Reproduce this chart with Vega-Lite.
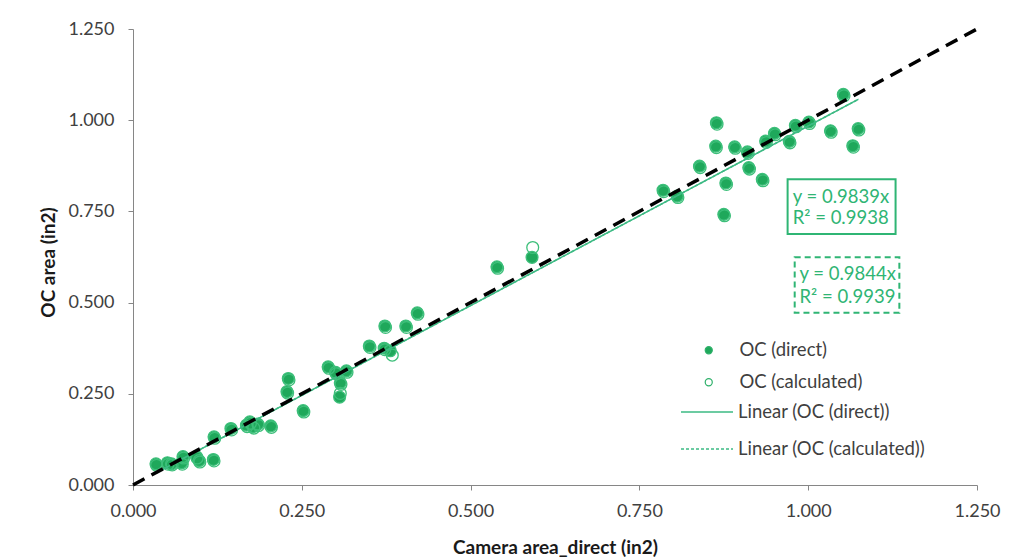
{
  "$schema": "https://vega.github.io/schema/vega-lite/v6.json",
  "autosize": {"type": "none"},
  "width": 844,
  "height": 456,
  "padding": {"left": 133, "top": 29, "right": 39, "bottom": 72},
  "background": "white",
  "config": {
    "font": "Lato",
    "view": {"stroke": null},
    "axis": {
      "domainColor": "#868686",
      "tickColor": "#868686",
      "tickSize": 5,
      "grid": false,
      "labelFlush": false,
      "labelFont": "Lato",
      "labelFontSize": 18,
      "labelColor": "#404040",
      "titleFont": "Lato",
      "titleFontSize": 19,
      "titleFontWeight": "bold",
      "titleColor": "#1a1a1a"
    },
    "legend": {
      "labelFont": "Lato",
      "labelFontSize": 18.5,
      "labelColor": "#404040",
      "labelLimit": 0
    }
  },
  "datasets": {
    "pts": [
      {"x": 0.034, "y": 0.058, "s": "OC (direct)"},
      {"x": 0.051, "y": 0.061, "s": "OC (direct)"},
      {"x": 0.057, "y": 0.058, "s": "OC (direct)"},
      {"x": 0.072, "y": 0.061, "s": "OC (direct)"},
      {"x": 0.074, "y": 0.078, "s": "OC (direct)"},
      {"x": 0.094, "y": 0.078, "s": "OC (direct)"},
      {"x": 0.098, "y": 0.067, "s": "OC (direct)"},
      {"x": 0.119, "y": 0.070, "s": "OC (direct)"},
      {"x": 0.120, "y": 0.132, "s": "OC (direct)"},
      {"x": 0.145, "y": 0.155, "s": "OC (direct)"},
      {"x": 0.168, "y": 0.164, "s": "OC (direct)"},
      {"x": 0.173, "y": 0.173, "s": "OC (direct)"},
      {"x": 0.178, "y": 0.160, "s": "OC (direct)"},
      {"x": 0.185, "y": 0.167, "s": "OC (direct)"},
      {"x": 0.204, "y": 0.162, "s": "OC (direct)"},
      {"x": 0.228, "y": 0.256, "s": "OC (direct)"},
      {"x": 0.230, "y": 0.292, "s": "OC (direct)"},
      {"x": 0.252, "y": 0.204, "s": "OC (direct)"},
      {"x": 0.289, "y": 0.324, "s": "OC (direct)"},
      {"x": 0.300, "y": 0.309, "s": "OC (direct)"},
      {"x": 0.316, "y": 0.313, "s": "OC (direct)"},
      {"x": 0.307, "y": 0.280, "s": "OC (direct)"},
      {"x": 0.306, "y": 0.241, "s": "OC (direct)"},
      {"x": 0.350, "y": 0.381, "s": "OC (direct)"},
      {"x": 0.372, "y": 0.375, "s": "OC (direct)"},
      {"x": 0.381, "y": 0.368, "s": "OC (direct)"},
      {"x": 0.373, "y": 0.436, "s": "OC (direct)"},
      {"x": 0.404, "y": 0.436, "s": "OC (direct)"},
      {"x": 0.421, "y": 0.472, "s": "OC (direct)"},
      {"x": 0.539, "y": 0.598, "s": "OC (direct)"},
      {"x": 0.591, "y": 0.624, "s": "OC (direct)"},
      {"x": 0.785, "y": 0.808, "s": "OC (direct)"},
      {"x": 0.806, "y": 0.792, "s": "OC (direct)"},
      {"x": 0.839, "y": 0.874, "s": "OC (direct)"},
      {"x": 0.864, "y": 0.993, "s": "OC (direct)"},
      {"x": 0.863, "y": 0.929, "s": "OC (direct)"},
      {"x": 0.878, "y": 0.828, "s": "OC (direct)"},
      {"x": 0.875, "y": 0.742, "s": "OC (direct)"},
      {"x": 0.891, "y": 0.927, "s": "OC (direct)"},
      {"x": 0.910, "y": 0.913, "s": "OC (direct)"},
      {"x": 0.912, "y": 0.870, "s": "OC (direct)"},
      {"x": 0.932, "y": 0.838, "s": "OC (direct)"},
      {"x": 0.937, "y": 0.943, "s": "OC (direct)"},
      {"x": 0.950, "y": 0.964, "s": "OC (direct)"},
      {"x": 0.972, "y": 0.942, "s": "OC (direct)"},
      {"x": 0.981, "y": 0.986, "s": "OC (direct)"},
      {"x": 1.001, "y": 0.995, "s": "OC (direct)"},
      {"x": 1.033, "y": 0.971, "s": "OC (direct)"},
      {"x": 1.052, "y": 1.071, "s": "OC (direct)"},
      {"x": 1.074, "y": 0.977, "s": "OC (direct)"},
      {"x": 1.066, "y": 0.930, "s": "OC (direct)"},
      {"x": 0.035, "y": 0.054, "s": "OC (calculated)"},
      {"x": 0.052, "y": 0.057, "s": "OC (calculated)"},
      {"x": 0.058, "y": 0.055, "s": "OC (calculated)"},
      {"x": 0.073, "y": 0.057, "s": "OC (calculated)"},
      {"x": 0.075, "y": 0.074, "s": "OC (calculated)"},
      {"x": 0.095, "y": 0.074, "s": "OC (calculated)"},
      {"x": 0.099, "y": 0.063, "s": "OC (calculated)"},
      {"x": 0.120, "y": 0.066, "s": "OC (calculated)"},
      {"x": 0.121, "y": 0.128, "s": "OC (calculated)"},
      {"x": 0.146, "y": 0.151, "s": "OC (calculated)"},
      {"x": 0.169, "y": 0.160, "s": "OC (calculated)"},
      {"x": 0.174, "y": 0.169, "s": "OC (calculated)"},
      {"x": 0.179, "y": 0.156, "s": "OC (calculated)"},
      {"x": 0.186, "y": 0.163, "s": "OC (calculated)"},
      {"x": 0.205, "y": 0.158, "s": "OC (calculated)"},
      {"x": 0.229, "y": 0.252, "s": "OC (calculated)"},
      {"x": 0.231, "y": 0.288, "s": "OC (calculated)"},
      {"x": 0.253, "y": 0.200, "s": "OC (calculated)"},
      {"x": 0.290, "y": 0.320, "s": "OC (calculated)"},
      {"x": 0.301, "y": 0.305, "s": "OC (calculated)"},
      {"x": 0.317, "y": 0.309, "s": "OC (calculated)"},
      {"x": 0.308, "y": 0.276, "s": "OC (calculated)"},
      {"x": 0.307, "y": 0.251, "s": "OC (calculated)"},
      {"x": 0.351, "y": 0.377, "s": "OC (calculated)"},
      {"x": 0.373, "y": 0.371, "s": "OC (calculated)"},
      {"x": 0.384, "y": 0.356, "s": "OC (calculated)"},
      {"x": 0.374, "y": 0.432, "s": "OC (calculated)"},
      {"x": 0.405, "y": 0.432, "s": "OC (calculated)"},
      {"x": 0.422, "y": 0.468, "s": "OC (calculated)"},
      {"x": 0.540, "y": 0.594, "s": "OC (calculated)"},
      {"x": 0.592, "y": 0.651, "s": "OC (calculated)"},
      {"x": 0.786, "y": 0.804, "s": "OC (calculated)"},
      {"x": 0.807, "y": 0.788, "s": "OC (calculated)"},
      {"x": 0.840, "y": 0.870, "s": "OC (calculated)"},
      {"x": 0.865, "y": 0.989, "s": "OC (calculated)"},
      {"x": 0.864, "y": 0.925, "s": "OC (calculated)"},
      {"x": 0.879, "y": 0.824, "s": "OC (calculated)"},
      {"x": 0.876, "y": 0.738, "s": "OC (calculated)"},
      {"x": 0.892, "y": 0.923, "s": "OC (calculated)"},
      {"x": 0.911, "y": 0.909, "s": "OC (calculated)"},
      {"x": 0.913, "y": 0.866, "s": "OC (calculated)"},
      {"x": 0.933, "y": 0.834, "s": "OC (calculated)"},
      {"x": 0.938, "y": 0.939, "s": "OC (calculated)"},
      {"x": 0.951, "y": 0.960, "s": "OC (calculated)"},
      {"x": 0.973, "y": 0.938, "s": "OC (calculated)"},
      {"x": 0.982, "y": 0.982, "s": "OC (calculated)"},
      {"x": 1.002, "y": 0.991, "s": "OC (calculated)"},
      {"x": 1.034, "y": 0.967, "s": "OC (calculated)"},
      {"x": 1.053, "y": 1.067, "s": "OC (calculated)"},
      {"x": 1.075, "y": 0.973, "s": "OC (calculated)"},
      {"x": 1.067, "y": 0.926, "s": "OC (calculated)"}
    ],
    "fits": [
      {"x": 0.034, "y": 0.033, "s": "Linear (OC (direct))"},
      {"x": 1.074, "y": 1.057, "s": "Linear (OC (direct))"},
      {"x": 0.035, "y": 0.034, "s": "Linear (OC (calculated))"},
      {"x": 1.075, "y": 1.058, "s": "Linear (OC (calculated))"}
    ],
    "diag": [
      {"x": 0, "y": 0},
      {"x": 1.25, "y": 1.25}
    ],
    "boxes": [
      {"x": 0.9695, "x2": 1.1294, "y": 0.838, "y2": 0.688, "b": "direct"},
      {"x": 0.980, "x2": 1.135, "y": 0.624, "y2": 0.472, "b": "calculated"}
    ],
    "labels": [
      {"x": 0.977, "y": 0.790, "t": "y = 0.9839x"},
      {"x": 0.977, "y": 0.731, "t": "R² = 0.9938"},
      {"x": 0.987, "y": 0.578, "t": "y = 0.9844x"},
      {"x": 0.987, "y": 0.516, "t": "R² = 0.9939"}
    ]
  },
  "layer": [
    {
      "data": {"name": "pts"},
      "mark": {"type": "point", "shape": "circle", "size": 140, "stroke": "#3dbf7a", "strokeWidth": 1.3, "opacity": 1},
      "encoding": {
        "x": {
          "field": "x", "type": "quantitative",
          "scale": {"domain": [0, 1.25], "nice": false, "zero": false},
          "axis": {
            "values": [0, 0.25, 0.5, 0.75, 1, 1.25], "format": ".3f",
            "title": "Camera area_direct (in2)",
            "labelPadding": 12, "titleY": 62, "titleBaseline": "middle"
          }
        },
        "y": {
          "field": "y", "type": "quantitative",
          "scale": {"domain": [0, 1.25], "nice": false, "zero": false},
          "axis": {
            "values": [0, 0.25, 0.5, 0.75, 1, 1.25], "format": ".3f",
            "title": "OC area (in2)",
            "labelPadding": 14, "titleX": -85, "titleY": 233, "titleBaseline": "middle"
          }
        },
        "fill": {
          "field": "s", "type": "nominal",
          "scale": {"domain": ["OC (direct)", "OC (calculated)"], "range": ["#1fa85b", "transparent"]},
          "legend": {
            "title": null, "orient": "none", "legendX": 566.5, "legendY": 312,
            "symbolType": "circle", "symbolSize": 50, "symbolStrokeColor": "#2eb06a",
            "symbolStrokeWidth": 1.2, "labelOffset": 21.4, "rowPadding": 13, "padding": 0
          }
        }
      }
    },
    {
      "data": {"name": "fits"},
      "mark": {"type": "line", "stroke": "#3dba84", "strokeWidth": 1.5},
      "encoding": {
        "x": {"field": "x", "type": "quantitative"},
        "y": {"field": "y", "type": "quantitative"},
        "strokeDash": {
          "field": "s", "type": "nominal",
          "scale": {"domain": ["Linear (OC (direct))", "Linear (OC (calculated))"], "range": [[1, 0], [3, 2]]},
          "legend": {
            "title": null, "orient": "none", "legendX": 547, "legendY": 356,
            "symbolType": "stroke", "symbolSize": 2704, "symbolStrokeColor": "#3dba84",
            "symbolStrokeWidth": 1.5, "labelOffset": 4, "rowPadding": -5, "padding": 0
          }
        }
      }
    },
    {
      "data": {"name": "diag"},
      "mark": {"type": "line", "stroke": "black", "strokeWidth": 3.5, "strokeDash": [13, 8]},
      "encoding": {
        "x": {"field": "x", "type": "quantitative"},
        "y": {"field": "y", "type": "quantitative"}
      }
    },
    {
      "data": {"name": "boxes"},
      "transform": [{"filter": "datum.b === 'direct'"}],
      "mark": {"type": "rect", "fill": "white", "stroke": "#2fb574", "strokeWidth": 2},
      "encoding": {
        "x": {"field": "x", "type": "quantitative"},
        "x2": {"field": "x2"},
        "y": {"field": "y", "type": "quantitative"},
        "y2": {"field": "y2"}
      }
    },
    {
      "data": {"name": "boxes"},
      "transform": [{"filter": "datum.b === 'calculated'"}],
      "mark": {"type": "rect", "fill": "white", "stroke": "#2fb574", "strokeWidth": 2, "strokeDash": [6, 4]},
      "encoding": {
        "x": {"field": "x", "type": "quantitative"},
        "x2": {"field": "x2"},
        "y": {"field": "y", "type": "quantitative"},
        "y2": {"field": "y2"}
      }
    },
    {
      "data": {"name": "labels"},
      "mark": {"type": "text", "align": "left", "baseline": "middle", "font": "Lato", "fontSize": 18.5, "fill": "#2fb574"},
      "encoding": {
        "x": {"field": "x", "type": "quantitative"},
        "y": {"field": "y", "type": "quantitative"},
        "text": {"field": "t"}
      }
    }
  ]
}
